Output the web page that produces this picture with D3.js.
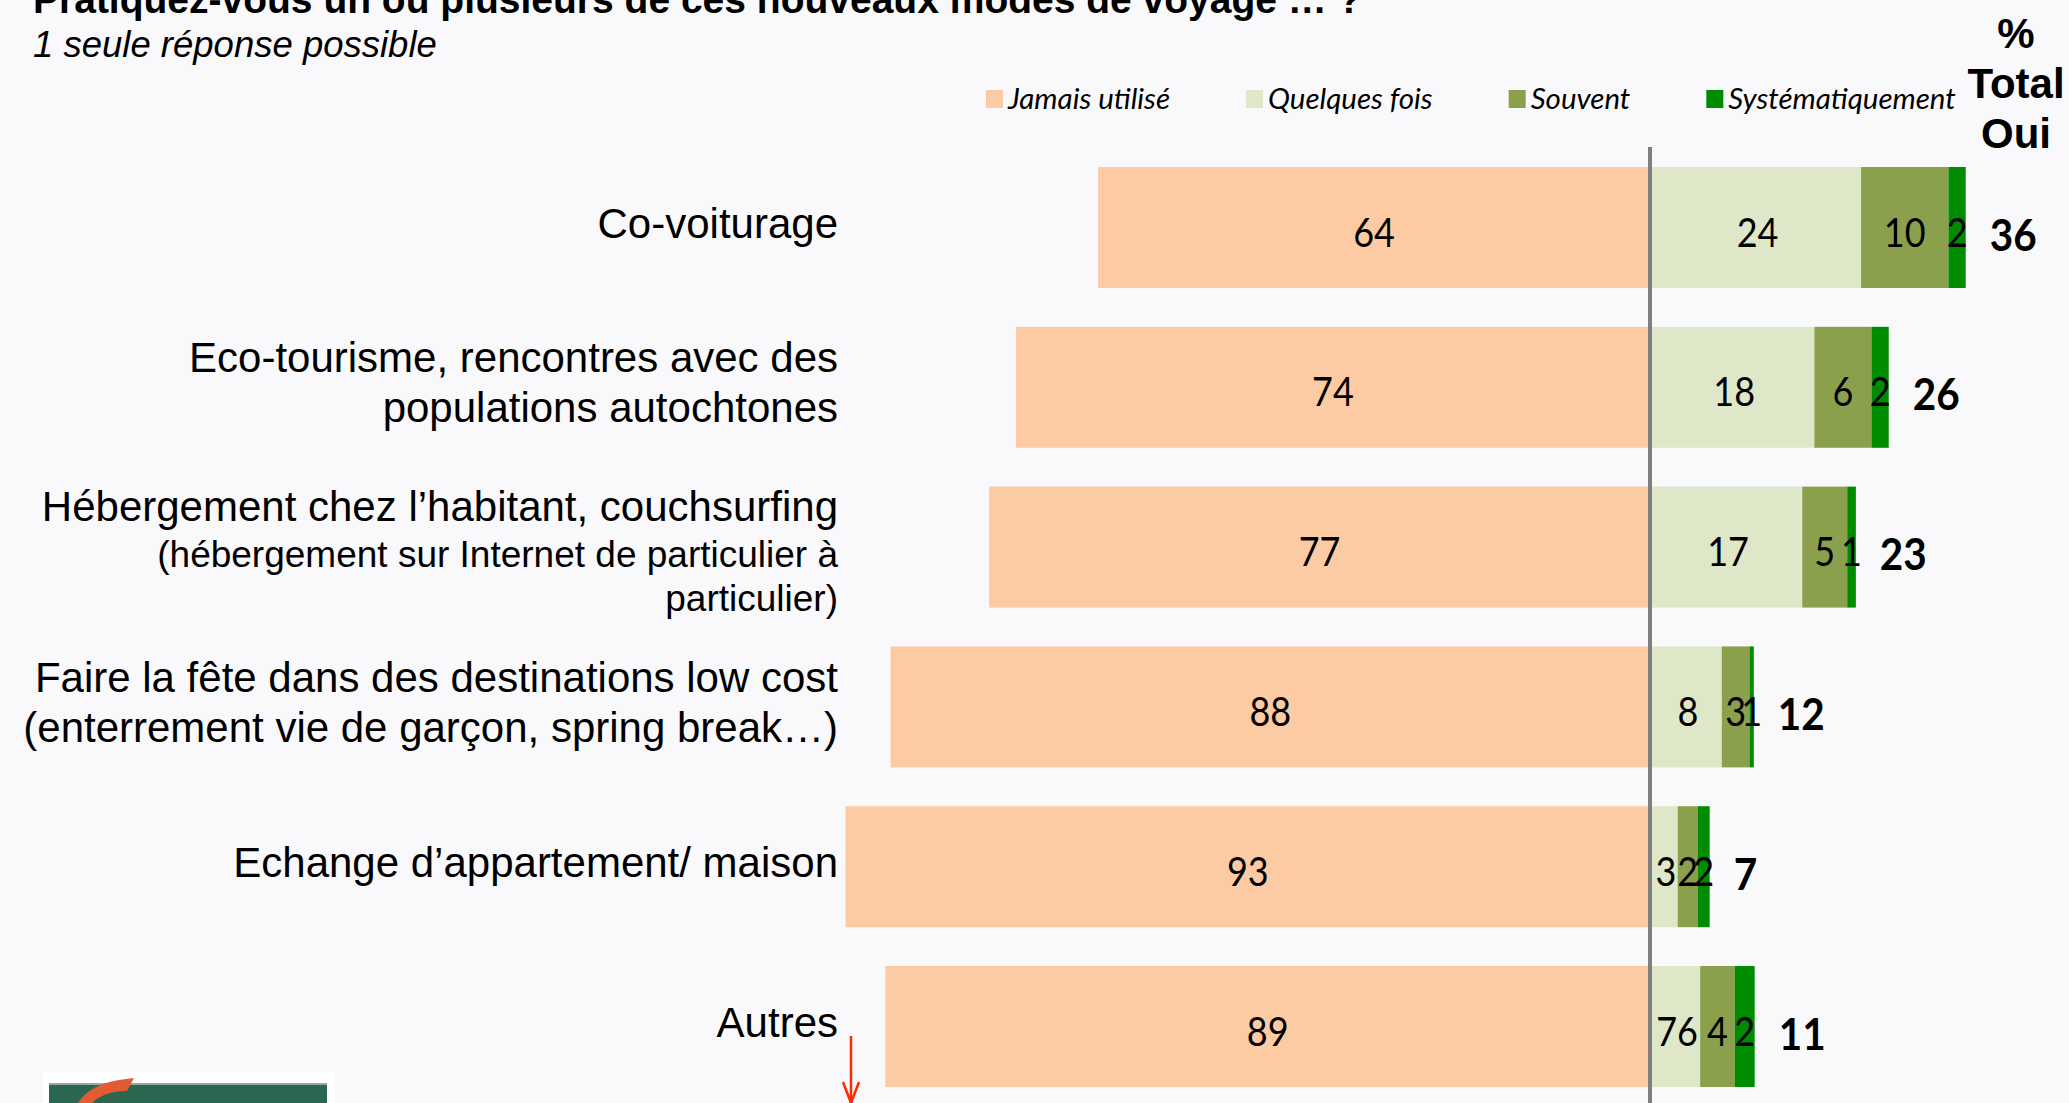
<!DOCTYPE html>
<html>
<head>
<meta charset="utf-8">
<script src="https://cdn.jsdelivr.net/npm/d3@7"></script>
<style>
  html, body { margin: 0; padding: 0; background: #f9f9fb; }
  svg { display: block; }
</style>
</head>
<body>
<div id="chart"></div>
<script>
// categories (one key per row) and their wrapped label lines
var categories = ['covoit', 'eco', 'heberg', 'fete', 'echange', 'autres'];
var labelMain = [
  ['Co-voiturage'],
  ['Eco-tourisme, rencontres avec des', 'populations autochtones'],
  ['Hébergement chez l’habitant, couchsurfing'],
  ['Faire la fête dans des destinations low cost', '(enterrement vie de garçon, spring break…)'],
  ['Echange d’appartement/ maison'],
  ['Autres']
];
var labelSub = [[], [], ['(hébergement sur Internet de particulier à', 'particulier)'], [], [], []];

var seriesNames = ['Jamais utilisé', 'Quelques fois', 'Souvent', 'Systématiquement'];
var seriesColors = ['#fccba3', '#dee7c8', '#8ba04c', '#008c00'];

var jamais       = [63.8, 73.3, 76.4, 87.8, 93, 88.4];
var quelques     = [24.4, 19, 17.6, 8.3, 3.2, 5.8];
var souvent      = [10.1, 6.6, 5.2, 3.2, 2.3, 4];
var systematique = [2, 2, 1, 0.5, 1.4, 2.3];
var jamaisText   = ['64', '74', '77', '88', '93', '89'];
var quelquesText = ['24', '18', '17', '8', '3', '76'];
var souventText  = ['10', '6', '5', '3', '2', '4'];
var systText     = ['2', '2', '1', '1', '2', '2'];
var totalOui     = [36, 26, 23, 12, 7, 11];

var title = 'Pratiquez-vous un ou plusieurs de ces nouveaux modes de voyage … ?';
var subtitle = '1 seule réponse possible';
var totalHeader = ['%', 'Total', 'Oui'];

function drawChart() {
    var width = 2069
      , height = 1103
      , labelRight = 838
      , numFont = 'Lato, "Open Sans", sans-serif'
      , txtFont = '"Liberation Sans", Arial, sans-serif';

    var svg = d3.select('#chart')
        .append('svg')
        .attr('width', width)
        .attr('height', height);

    svg.append('rect')
        .attr('width', width)
        .attr('height', height)
        .attr('fill', '#f9f9fb');

    var x = d3.scaleLinear().domain([-100, 50]).range([785, 2082.5]);
    var y = d3.scaleBand()
        .domain(categories)
        .range([147.6, 1106.4])
        .paddingInner(0.243)
        .paddingOuter(0.1215);
    var bw = y.bandwidth();

    // title, cut by the top edge as in the slide
    svg.append('text')
        .attr('x', 33).attr('y', 13)
        .style('font-family', txtFont)
        .style('font-weight', 'bold')
        .style('font-size', '39px')
        .text(title);

    svg.append('text')
        .attr('x', 33).attr('y', 57)
        .style('font-family', txtFont)
        .style('font-style', 'italic')
        .style('font-size', '36.5px')
        .text(subtitle);

    // legend
    var legend = svg.append('g');
    var cur = 986;
    seriesNames.forEach(function (name, i) {
        legend.append('rect')
            .attr('x', cur).attr('y', 90)
            .attr('width', 17).attr('height', 18)
            .attr('fill', seriesColors[i]);
        var t = legend.append('text')
            .attr('x', cur + 22).attr('y', 109)
            .style('font-family', numFont)
            .style('font-style', 'italic')
            .style('font-size', '29.5px')
            .text(name);
        cur = cur + 22 + t.node().getComputedTextLength() + 76;
    });

    // "% Total Oui" header
    svg.append('g').selectAll('text')
        .data(totalHeader)
        .enter()
        .append('text')
        .attr('x', 2016)
        .attr('y', function (d, i) { return 48 + i * 50; })
        .attr('text-anchor', 'middle')
        .style('font-family', txtFont)
        .style('font-weight', 'bold')
        .style('font-size', '42px')
        .text(function (d) { return d; });

    // category labels, block centred a little above the bar centre
    categories.forEach(function (c, i) {
        var lines = labelMain[i].map(function (s) { return { t: s, size: 42, sub: false }; })
            .concat(labelSub[i].map(function (s) { return { t: s, size: 37, sub: true }; }));
        var gaps = lines.map(function (l, j) {
            if (j === 0) return 0;
            if (!l.sub) return 50;
            return lines[j - 1].sub ? 44 : 46;
        });
        var span = d3.sum(gaps);
        var base = y(c) + bw / 2 - 5 - (span - 30) / 2 + (labelSub[i].length ? 9 : 0);
        lines.forEach(function (l, j) {
            base += gaps[j];
            svg.append('text')
                .attr('x', labelRight)
                .attr('y', base)
                .attr('text-anchor', 'end')
                .style('font-family', txtFont)
                .style('font-size', l.size + 'px')
                .text(l.t);
        });
    });

    // left bars (jamais)
    var rowsG = svg.append('g');
    rowsG.selectAll('rect.jamais')
        .data(jamais)
        .enter()
        .append('rect')
        .attr('class', 'jamais')
        .attr('x', function (d) { return x(-d); })
        .attr('y', function (d, i) { return y(categories[i]); })
        .attr('width', function (d) { return x(0) - x(-d); })
        .attr('height', bw)
        .attr('fill', seriesColors[0]);

    rowsG.selectAll('text.jamais')
        .data(jamais)
        .enter()
        .append('text')
        .attr('class', 'jamais')
        .attr('transform', function (d, i) {
            return 'translate(' + [(x(-d) + x(0)) / 2, y(categories[i]) + bw / 2 + 19] + ') scale(0.9,1)';
        })
        .attr('text-anchor', 'middle')
        .style('font-family', numFont)
        .style('font-size', '40px')
        .text(function (d, i) { return jamaisText[i]; });

    // right stacked bars
    var rows = categories.map(function (c, i) {
        return { cat: c, quelques: quelques[i], souvent: souvent[i], systematique: systematique[i] };
    });
    var keys = ['quelques', 'souvent', 'systematique'];
    var texts = { quelques: quelquesText, souvent: souventText, systematique: systText };
    var stacked = d3.stack().keys(keys)(rows);

    var layers = svg.append('g').selectAll('g')
        .data(stacked)
        .enter()
        .append('g')
        .attr('fill', function (d, i) { return seriesColors[i + 1]; });

    layers.selectAll('rect')
        .data(function (d) { return d; })
        .enter()
        .append('rect')
        .attr('x', function (d) { return x(d[0]); })
        .attr('y', function (d) { return y(d.data.cat); })
        .attr('width', function (d) { return x(d[1]) - x(d[0]); })
        .attr('height', bw);

    layers.selectAll('text')
        .data(function (d) { return d.map(function (p, i) { return { p: p, key: d.key, i: i }; }); })
        .enter()
        .append('text')
        .attr('transform', function (d) {
            var cx = (x(d.p[0]) + x(d.p[1])) / 2;
            if (d.key === 'quelques') cx += 2;
            return 'translate(' + [cx, y(d.p.data.cat) + bw / 2 + 19] + ') scale(0.9,1)';
        })
        .attr('text-anchor', 'middle')
        .attr('fill', '#000')
        .style('font-family', numFont)
        .style('font-size', '40px')
        .text(function (d) { return texts[d.key][d.i]; });

    // total oui
    var last = stacked[stacked.length - 1];
    svg.append('g').selectAll('text')
        .data(totalOui)
        .enter()
        .append('text')
        .attr('transform', function (d, i) {
            return 'translate(' + [x(last[i][1]) + 24, y(categories[i]) + bw / 2 + 23] + ') scale(0.92,1)';
        })
        .style('font-family', numFont)
        .style('font-weight', 'bold')
        .style('font-size', '44px')
        .text(function (d) { return d; });

    // zero line
    svg.append('line')
        .attr('x1', x(0)).attr('x2', x(0))
        .attr('y1', 147).attr('y2', height)
        .attr('stroke', '#7f7f7f')
        .attr('stroke-width', 4);

    // red arrow near the bottom
    var arrow = svg.append('g')
        .attr('stroke', '#ff2a00')
        .attr('stroke-width', 2.5)
        .attr('fill', 'none');
    arrow.append('line').attr('x1', 851).attr('x2', 851).attr('y1', 1036).attr('y2', 1103);
    arrow.append('path').attr('d', 'M843,1082 L851,1103 L859,1082');

    // logo fragment, bottom left
    var logo = svg.append('g');
    logo.append('rect').attr('x', 43).attr('y', 1072).attr('width', 291).attr('height', 40).attr('fill', '#ffffff');
    logo.append('rect').attr('x', 49).attr('y', 1083).attr('width', 278).attr('height', 2).attr('fill', '#9aa7a0');
    logo.append('rect').attr('x', 49).attr('y', 1085).attr('width', 278).attr('height', 30).attr('fill', '#2a6650');
    logo.append('path')
        .attr('d', 'M78,1103 Q90,1083 126,1079 L134,1078 L127,1091 Q104,1091 92,1103 Z')
        .attr('fill', '#e35b32');

    var brand = svg.append('text')
        .attr('x', 357).attr('y', 1133)
        .style('font-family', txtFont)
        .style('font-weight', 'bold')
        .style('font-size', '42px')
        .attr('fill', '#9a9a9a');
    brand.append('tspan').text('VOYAG');
    brand.append('tspan').attr('fill', '#e8746a').text('E');
}

drawChart();
</script>
</body>
</html>
